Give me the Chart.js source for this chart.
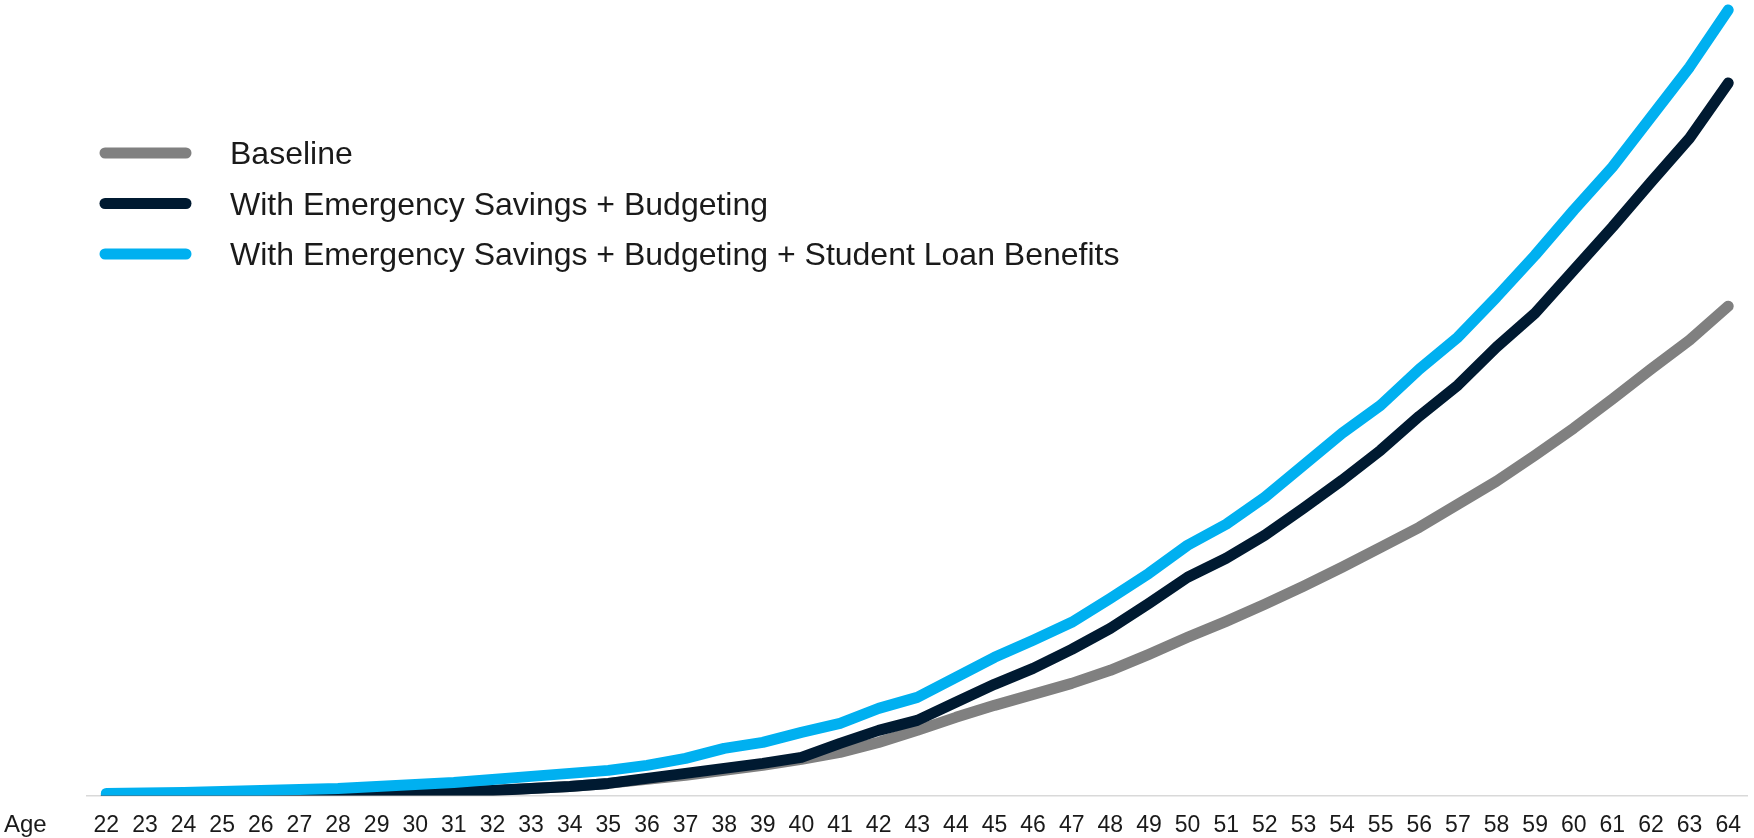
<!DOCTYPE html>
<html>
<head>
<meta charset="utf-8">
<script src="https://cdn.jsdelivr.net/npm/chart.js@4/dist/chart.umd.min.js"></script>
<style>
    html, body { margin: 0; padding: 0; background: #ffffff; overflow: hidden; }
    #wealth-chart-content { position: relative; width: 1757px; height: 855px; }
    #wealth-chart { display: block; width: 1757px; height: 855px; }
</style>
</head>
<body>
<div id="wealth-chart-content">
    <canvas id="wealth-chart" width="1757" height="855"></canvas>
</div>
<script>
// ages on the x axis
const ages = [22, 23, 24, 25, 26, 27, 28, 29, 30, 31, 32, 33, 34, 35, 36, 37, 38, 39, 40, 41, 42,
    43, 44, 45, 46, 47, 48, 49, 50, 51, 52, 53, 54, 55, 56, 57, 58, 59, 60, 61, 62, 63, 64];

// savings balance (no axis shown, relative units)
const baseline = [0.5, 0.5, 1, 1, 1, 1.5, 2, 2.5, 3, 4, 5, 7, 9, 12, 16, 20, 25, 30, 36, 43, 53,
    65, 78, 90, 101, 112, 125, 141, 158, 174, 191, 209, 228, 248, 268, 291, 314, 340, 367, 396, 426, 455, 489];
const withBudgeting = [0, 0, 0.5, 0.5, 1, 1, 1.5, 2, 2.5, 3.5, 5, 7, 9, 12, 17, 22, 27, 32, 38, 52, 65,
    75, 93, 111, 127, 146, 167, 192, 218, 237, 260, 287, 315, 345, 379, 410, 448, 482, 525, 568, 613, 657, 712];
const withStudentLoan = [2, 2.5, 3, 4, 5, 6, 7, 9, 11, 13, 16, 19, 22, 25, 30, 37, 47, 53, 63, 72, 87,
    98, 118, 138, 155, 173, 197, 222, 250, 271, 298, 330, 362, 390, 426, 458, 498, 540, 585, 628, 678, 728, 785];

const seriesNames = [
    'Baseline',
    'With Emergency Savings + Budgeting',
    'With Emergency Savings + Budgeting + Student Loan Benefits'
];
const seriesColors = ['#808080', '#001a31', '#00b0f0'];
const axisTitle = 'Age';

Chart.defaults.font.family = "'Liberation Sans', Arial, sans-serif";

// legend at the top left + "Age" before the tick labels
const sideText = {
    id: 'sideText',
    afterDraw(chart) {
        const ctx = chart.ctx;
        ctx.save();
        chart.data.datasets.forEach((ds, i) => {
            const y = 153 + i * 50.5;
            ctx.strokeStyle = ds.borderColor;
            ctx.lineWidth = 11;
            ctx.lineCap = 'round';
            ctx.beginPath();
            ctx.moveTo(105, y);
            ctx.lineTo(186, y);
            ctx.stroke();
            ctx.fillStyle = '#1a1a1a';
            ctx.font = "32px 'Liberation Sans', Arial, sans-serif";
            ctx.textBaseline = 'alphabetic';
            ctx.textAlign = 'left';
            ctx.fillText(ds.label, 230, y + 11);
        });
        const xs = chart.scales.x;
        ctx.font = "24px 'Liberation Sans', Arial, sans-serif";
        ctx.textBaseline = 'middle';
        ctx.fillStyle = '#1a1a1a';
        ctx.fillText(axisTitle, 4, xs.top + 16 + 13.8);
        ctx.restore();
    }
};

const makeSet = (i, values, order) => ({
    label: seriesNames[i],
    data: values,
    borderColor: seriesColors[i],
    backgroundColor: seriesColors[i],
    borderWidth: 11,
    borderCapStyle: 'round',
    borderJoinStyle: 'round',
    pointRadius: 0,
    tension: 0,
    fill: false,
    order: order
});

const config = {
    type: 'line',
    data: {
        labels: ages,
        datasets: [
            makeSet(0, baseline, 3),
            makeSet(1, withBudgeting, 2),
            makeSet(2, withStudentLoan, 1)
        ]
    },
    options: {
        responsive: false,
        animation: false,
        layout: {padding: {left: 87, right: 0, top: 0, bottom: 0}},
        plugins: {
            legend: {display: false},
            tooltip: {enabled: false}
        },
        scales: {
            x: {
                offset: true,
                grid: {display: false, drawTicks: false},
                border: {display: true, color: '#d9d9d9', width: 1.5},
                ticks: {
                    color: '#1a1a1a',
                    font: {size: 23},
                    padding: 16,
                    maxRotation: 0,
                    autoSkip: false
                }
            },
            y: {
                display: false,
                min: 0,
                max: 795
            }
        }
    },
    plugins: [sideText]
};

const ctx = document.getElementById('wealth-chart').getContext('2d');
window.wealthChart = new Chart(ctx, config);
</script>
</body>
</html>
